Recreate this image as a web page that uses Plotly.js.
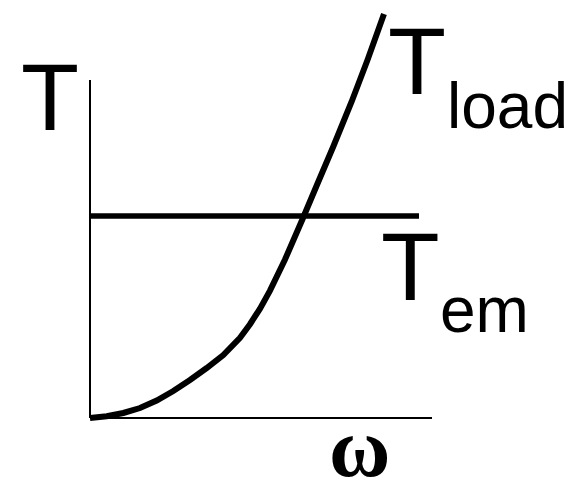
<!DOCTYPE html>
<html>
<head>
<meta charset="utf-8">
<script src="https://cdn.plot.ly/plotly-3.0.1.min.js"></script>
<style>html,body{margin:0;padding:0;background:#fff;}#chart{width:572px;height:483px;}</style>
</head>
<body>
<div id="chart"></div>
<script>
// Load torque curve T_load(ω) (T_em = 1 unit, axis end ω = 1 unit)
const omega = [0, 0.0488, 0.0974, 0.1462, 0.1950, 0.2436, 0.2924, 0.3412, 0.3898, 0.4386, 0.4678, 0.4971, 0.5263, 0.5702, 0.6219, 0.6629, 0.7114, 0.7652, 0.8114, 0.8596];
const tLoad = [0, 0.0084, 0.0248, 0.0495, 0.0866, 0.1337, 0.1881, 0.2475, 0.3119, 0.3975, 0.4644, 0.5416, 0.6307, 0.7847, 0.9861, 1.1510, 1.3441, 1.5668, 1.7723, 2.0000];
// Electromagnetic torque (constant)
const omegaEm = [0, 0.962];
const tEm = [1, 1];
// Axis extents
const omegaAxisMax = 1;
const tAxisMax = 1.673;
// Labels
const labelT = "T";
const labelTload = ["T", "load"];
const labelTem = ["T", "em"];
const labelOmega = "ω";

const W = 572, H = 483;
const px = x => x / W;
const py = y => 1 - y / H;

const traces = [
  {x: omega, y: tLoad, mode: 'lines', line: {color: '#000', width: 6, shape: 'linear', simplify: false}, hoverinfo: 'skip'},
  {x: omegaEm, y: tEm, mode: 'lines', line: {color: '#000', width: 5.5}, hoverinfo: 'skip'}
];

const sans = {family: 'Liberation Sans, Arial, sans-serif', color: '#000'};
const ann = (text, x, y, size, xanchor, fam) => ({
  text: text, xref: 'paper', yref: 'paper', x: px(x), y: py(y),
  xanchor: xanchor, yanchor: 'middle', showarrow: false,
  font: Object.assign({}, fam || sans, {size: size}), borderpad: 0
});

const layout = {
  width: W, height: H,
  margin: {l: 0, r: 0, t: 0, b: 0},
  paper_bgcolor: '#fff', plot_bgcolor: '#fff',
  showlegend: false,
  xaxis: {range: [-0.26316, 1.40936], visible: false, fixedrange: true},
  yaxis: {range: [-0.32178, 2.06931], visible: false, fixedrange: true},
  shapes: [
    {type: 'line', xref: 'x', yref: 'y', x0: 0, y0: 0, x1: omegaAxisMax, y1: 0, line: {color: '#000', width: 2}},
    {type: 'line', xref: 'x', yref: 'y', x0: 0, y0: 0, x1: 0, y1: tAxisMax, line: {color: '#000', width: 2}}
  ],
  annotations: [
    ann(labelT, 49.7, 97, 95, 'center'),
    ann(labelTload[0], 416.7, 61.5, 95, 'center'),
    ann(labelTload[1], 445.7, 105.5, 64, 'left'),
    ann(labelTem[0], 410.8, 266, 96, 'center'),
    ann(labelTem[1], 439, 309.5, 64, 'left'),
    ann(labelOmega, 359.2, 447, 84, 'center', {family: 'Liberation Serif, Times New Roman, serif', color: '#000', weight: 'bold'})
  ]
};

Plotly.newPlot('chart', traces, layout, {staticPlot: true, displayModeBar: false});
</script>
</body>
</html>
